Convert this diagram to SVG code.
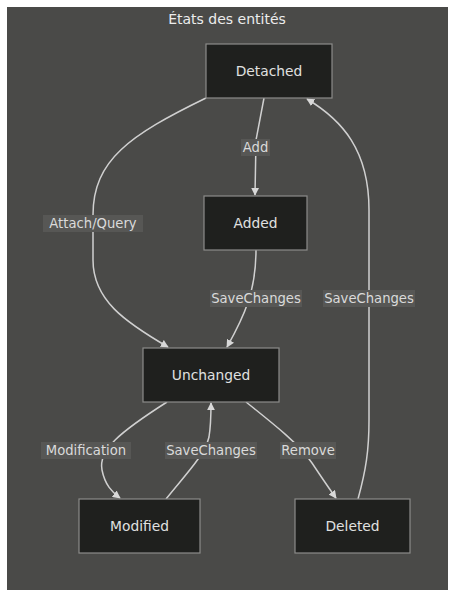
<svg xmlns="http://www.w3.org/2000/svg" width="454" height="597" viewBox="0 0 454 597">
<style>
.bg{fill:#4a4a48}
.node rect{fill:#1f201e;stroke:#8c8c8a;stroke-width:1.2}
.node text{fill:#e0e0e0;font-family:"DejaVu Sans",sans-serif;font-size:13.8px;text-anchor:middle;dominant-baseline:central}
.edge{fill:none;stroke:#d0d0d0;stroke-width:1.5}
.lbl rect{fill:#575755}
.lbl text{fill:#dadada;font-family:"DejaVu Sans",sans-serif;font-size:13.2px;text-anchor:middle;dominant-baseline:central}
.title{fill:#ececec;font-family:"DejaVu Sans",sans-serif;font-size:14px;text-anchor:middle}
</style>
<defs>
<marker id="arr" viewBox="0 0 10 10" refX="9" refY="5" markerWidth="8" markerHeight="8" markerUnits="userSpaceOnUse" orient="auto">
<path d="M0,0 L10,5 L0,10 z" fill="#d8d8d8"/>
</marker>
</defs>
<rect x="0" y="0" width="454" height="597" fill="#ffffff"/>
<rect class="bg" x="7" y="7" width="441" height="583"/>
<text class="title" x="227" y="24">États des entités</text>
<g id="edges">
<path class="edge" d="M264,98 L256,140 L255,195" marker-end="url(#arr)"/>
<path class="edge" d="M206,98 C130,135 93,160 93,215 L93,260 C93,300 125,322 168,347" marker-end="url(#arr)"/>
<path class="edge" d="M256,250 C256,290 245,315 227,347" marker-end="url(#arr)"/>
<path class="edge" d="M358,499 C366,470 369,450 369,420 L369,210 C369,150 342,120 307,99" marker-end="url(#arr)"/>
<path class="edge" d="M167,402 C120,432 98,450 102,470 C105,485 112,492 120,498" marker-end="url(#arr)"/>
<path class="edge" d="M166,499 C185,475 205,455 209,437 C211,425 211,415 211,403" marker-end="url(#arr)"/>
<path class="edge" d="M246,402 C275,425 300,445 312,463 C320,475 328,487 336,498" marker-end="url(#arr)"/>
</g>
<g id="labels">
<g class="lbl"><rect x="241" y="139" width="29" height="17"/><text x="255.5" y="147.5">Add</text></g>
<g class="lbl"><rect x="43" y="215" width="100" height="17"/><text x="93" y="223.5">Attach/Query</text></g>
<g class="lbl"><rect x="210" y="290" width="92" height="17"/><text x="256" y="298.5">SaveChanges</text></g>
<g class="lbl"><rect x="323" y="290" width="92" height="17"/><text x="369" y="298.5">SaveChanges</text></g>
<g class="lbl"><rect x="41" y="442" width="90" height="17"/><text x="86" y="450.5">Modification</text></g>
<g class="lbl"><rect x="165" y="442" width="92" height="17"/><text x="211" y="450.5">SaveChanges</text></g>
<g class="lbl"><rect x="280" y="442" width="56" height="17"/><text x="308" y="450.5">Remove</text></g>
</g>
<g id="node-detached" class="node"><rect x="206" y="44" width="126" height="54"/><text x="269" y="71">Detached</text></g>
<g id="node-added" class="node"><rect x="204" y="196" width="103" height="54"/><text x="255.5" y="223">Added</text></g>
<g id="node-unchanged" class="node"><rect x="143" y="348" width="136" height="54"/><text x="211" y="375">Unchanged</text></g>
<g id="node-modified" class="node"><rect x="79" y="499" width="121" height="54"/><text x="139.5" y="526">Modified</text></g>
<g id="node-deleted" class="node"><rect x="295" y="499" width="115" height="54"/><text x="352.5" y="526">Deleted</text></g>
</svg>
